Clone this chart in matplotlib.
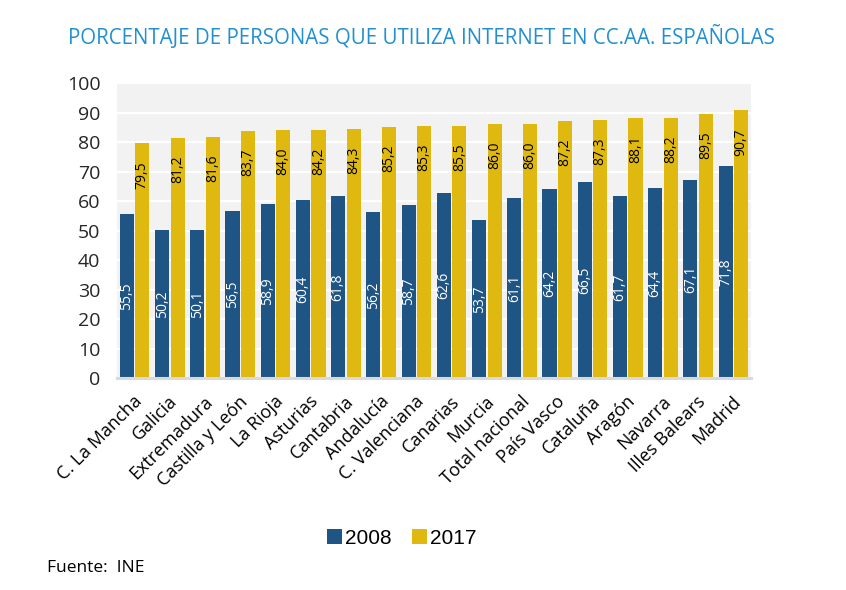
import matplotlib

matplotlib.use("Agg")
import matplotlib.pyplot as plt
import matplotlib.transforms as mtransforms
import numpy as np
from matplotlib.patches import Patch

regions = [
    "C. La Mancha", "Galicia", "Extremadura", "Castilla y León", "La Rioja",
    "Asturias", "Cantabria", "Andalucía", "C. Valenciana", "Canarias",
    "Murcia", "Total nacional", "País Vasco", "Cataluña", "Aragón",
    "Navarra", "Illes Balears", "Madrid",
]
values_2008 = [55.5, 50.2, 50.1, 56.5, 58.9, 60.4, 61.8, 56.2, 58.7, 62.6,
               53.7, 61.1, 64.2, 66.5, 61.7, 64.4, 67.1, 71.8]
values_2017 = [79.5, 81.2, 81.6, 83.7, 84.0, 84.2, 84.3, 85.2, 85.3, 85.5,
               86.0, 86.0, 87.2, 87.3, 88.1, 88.2, 89.5, 90.7]
series_labels = ["2008", "2017"]

BLUE = "#1f5585"
YELLOW = "#dfb810"
TEXT_FONT = ["Open Sans", "DejaVu Sans"]

plt.rcParams["font.family"] = TEXT_FONT

fig = plt.figure(figsize=(8.46, 5.90), dpi=100)
ax = fig.add_axes([0.1383, 0.3593, 0.7494, 0.5])

x = np.arange(len(regions))
width = 0.4
offset = 0.22

bars_08 = ax.bar(x - offset, values_2008, width, color=BLUE, zorder=3)
bars_17 = ax.bar(x + offset, values_2017, width, color=YELLOW, zorder=3)


def fmt(v):
    return f"{v:.1f}".replace(".", ",")


# white labels centred in 2008 bars, black labels near the top of 2017 bars
for rect, v in zip(bars_08, values_2008):
    ax.text(rect.get_x() + rect.get_width() / 2, v / 2, fmt(v),
            rotation=90, ha="center", va="center", color="white",
            fontsize=10, zorder=4)
for rect, v in zip(bars_17, values_2017):
    ax.text(rect.get_x() + rect.get_width() / 2, v - 10.6, fmt(v),
            rotation=90, ha="center", va="center", color="black",
            fontsize=10, zorder=4)

ax.set_xlim(-0.5, len(regions) - 0.5)
ax.set_ylim(0, 100)
ax.set_yticks(range(0, 101, 10))
ax.set_facecolor("#f2f2f2")
ax.grid(axis="y", color="white", linewidth=1.6, zorder=1)
ax.set_axisbelow(True)

for side in ["top", "right", "left"]:
    ax.spines[side].set_visible(False)
ax.spines["bottom"].set_color("#d9d9d9")
ax.spines["bottom"].set_linewidth(2.2)
ax.spines["bottom"].set_zorder(5)

ax.tick_params(axis="y", length=0, pad=12, labelsize=14, labelcolor="#262626")
ax.tick_params(axis="x", length=0, pad=15, labelsize=13, labelcolor="black")
ax.set_xticks(x)
ax.set_xticklabels(regions, rotation=45, ha="right", rotation_mode="anchor",
                   va="center")
shift = mtransforms.ScaledTranslation(5 / 100, 0, fig.dpi_scale_trans)
for lbl in ax.get_xticklabels():
    lbl.set_transform(lbl.get_transform() + shift)

fig.text(0.498, 0.937, "PORCENTAJE DE PERSONAS QUE UTILIZA INTERNET EN CC.AA. ESPAÑOLAS",
         ha="center", va="center", color="#2290d0", fontsize=14.8)

handles = [Patch(facecolor=BLUE, label=series_labels[0]),
           Patch(facecolor=YELLOW, label=series_labels[1])]
fig.legend(handles=handles, loc="center", bbox_to_anchor=(0.475, 0.088), ncol=2,
           frameon=False, handlelength=0.7, handleheight=0.7, handletextpad=0.15,
           columnspacing=1.0, prop={"family": "Liberation Sans", "size": 15})

fig.text(0.055, 0.038, "Fuente:  INE", ha="left", va="center", fontsize=12.5,
         color="black")

fig.savefig("out.png", dpi=100)
